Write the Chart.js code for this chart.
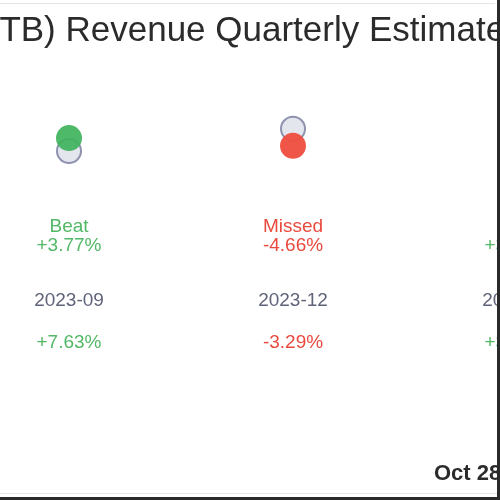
<!DOCTYPE html>
<html>
<head>
<meta charset="utf-8">
<script src="https://cdn.jsdelivr.net/npm/chart.js@4/dist/chart.umd.min.js"></script>
<style>
  html, body { margin: 0; padding: 0; background: #2a2a2a; overflow: hidden; width: 500px; height: 500px; }
  #frame { position: absolute; left: 0; top: 0; width: 497px; height: 497px; overflow: hidden; background: #fff; }
  #topline { position: absolute; left: 0; top: 3px; width: 495px; height: 1px; background: #e3e6e8; z-index: 2; }
  #botline { position: absolute; left: 0; top: 493px; width: 497px; height: 1px; background: #e3e6e8; z-index: 2; }
  #wrap { position: absolute; left: -107px; top: 0; width: 736px; height: 497px; }
</style>
</head>
<body>
<div id="frame">
  <div id="topline"></div>
  <div id="botline"></div>
  <div id="wrap"><canvas id="c"></canvas></div>
</div>
<script>
// ---- data ----
const quarters = ['2023-09', '2023-12', '2024-03'];
const estimates = [2.31, 2.46, null];      // revenue estimate ($B)
const actuals = [2.397, 2.345, null];      // reported revenue ($B)
const surpriseLabels = ['Beat', 'Missed', 'Beat'];
const surprisePct = ['+3.77%', '-4.66%', '+3.52%'];
const growthPct = ['+7.63%', '-3.29%', '+3.10%'];
const titleText = 'TB) Revenue Quarterly Estimates';
const dateText = 'Oct 28';

const GREEN_T = '#52b867';
const RED_T = '#e94a3e';
const GRAY_T = '#60647a';
const FONT = '"Liberation Sans", Arial, sans-serif';

const beat = surpriseLabels.map(s => s === 'Beat');

const labelsPlugin = {
  id: 'rowLabels',
  afterDraw(chart) {
    const ctx = chart.ctx;
    const x = chart.scales.x;
    const b = chart.chartArea.bottom;
    ctx.save();
    ctx.textAlign = 'center';
    ctx.textBaseline = 'middle';
    ctx.font = '19px ' + FONT;
    quarters.forEach((q, i) => {
      const px = x.getPixelForValue(i);
      const col = beat[i] ? GREEN_T : RED_T;
      ctx.fillStyle = col;
      ctx.fillText(surpriseLabels[i], px, b + 27);
      ctx.fillText(surprisePct[i], px, b + 46);
      ctx.fillStyle = GRAY_T;
      ctx.fillText(q, px, b + 101);
      ctx.fillStyle = growthPct[i].startsWith('-') ? RED_T : GREEN_T;
      ctx.fillText(growthPct[i], px, b + 143);
    });
    ctx.font = 'bold 22px ' + FONT;
    ctx.fillStyle = '#2b2b2b';
    ctx.textAlign = 'left';
    ctx.fillText(dateText, 541, 474);
    ctx.restore();
  }
};

new Chart(document.getElementById('c'), {
  type: 'line',
  data: {
    labels: quarters,
    datasets: [
      {
        label: 'Actual',
        data: actuals,
        showLine: false,
        pointRadius: 13,
        pointHoverRadius: 13,
        pointBorderWidth: 0,
        pointBackgroundColor: beat.map(b => b ? 'rgba(63,179,92,0.92)' : 'rgba(238,81,66,0.97)'),
        pointBorderColor: 'rgba(0,0,0,0)'
      },
      {
        label: 'Estimate',
        data: estimates,
        showLine: false,
        pointRadius: 12,
        pointHoverRadius: 12,
        pointBorderWidth: 2,
        pointBackgroundColor: '#e4e6ee',
        pointBorderColor: '#8e92ae'
      }
    ]
  },
  options: {
    responsive: true,
    maintainAspectRatio: false,
    animation: false,
    layout: { autoPadding: false, padding: { left: 0, right: 0, top: 0, bottom: 297 } },
    plugins: {
      legend: { display: false },
      tooltip: { enabled: false },
      title: {
        display: true,
        text: titleText,
        align: 'center',
        color: '#2b2b2b',
        font: { size: 35, family: FONT, weight: 'normal', lineHeight: 1.2 },
        padding: { top: 10, bottom: 10 }
      }
    },
    scales: {
      x: { display: false, offset: true },
      y: {
        display: true,
        min: 1.98,
        max: 2.91,
        ticks: { display: false },
        grid: { display: false },
        border: { display: false },
        afterFit(s) { s.width = 64; }
      }
    }
  },
  plugins: [labelsPlugin]
});
</script>
</body>
</html>
